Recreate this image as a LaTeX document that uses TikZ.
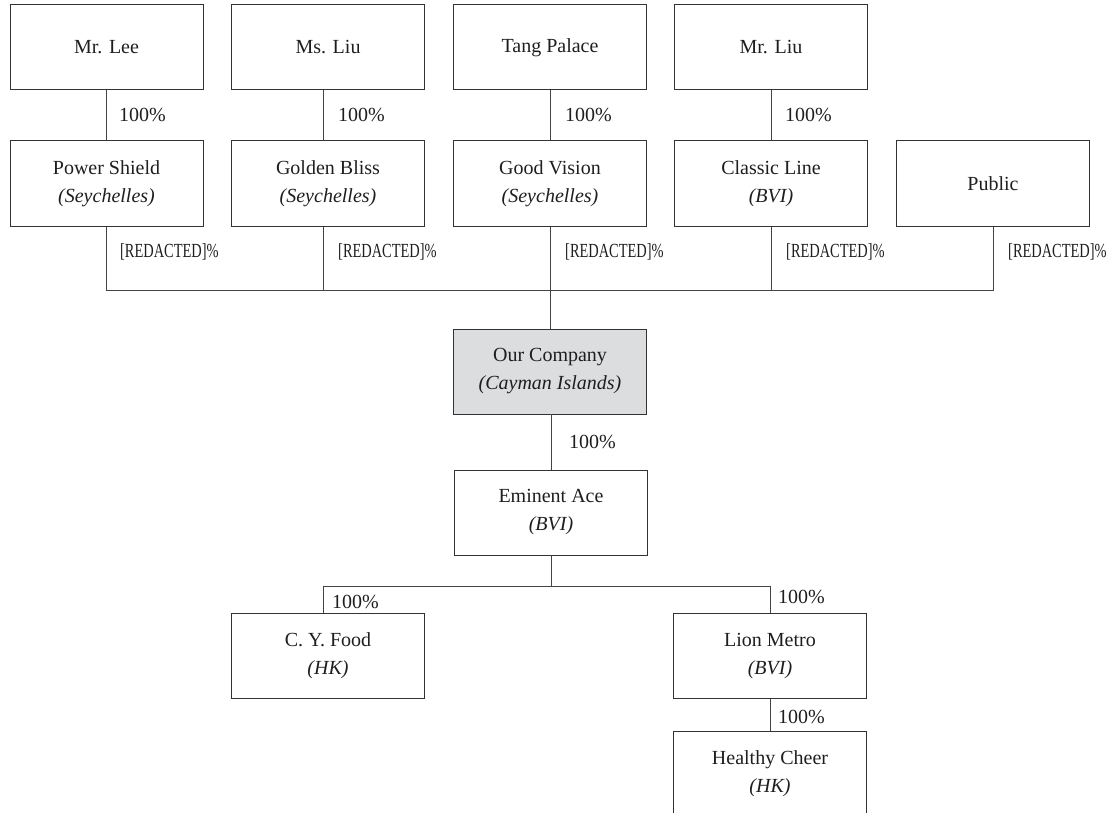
\documentclass[tikz,border=0pt]{standalone}
\usepackage{fontspec}
\setmainfont{Liberation Serif}
\usepackage{graphicx}
\definecolor{linec}{HTML}{333333}
\definecolor{connc}{HTML}{444444}
\definecolor{txt}{HTML}{1E1E1E}
\definecolor{fillc}{HTML}{DCDDDF}
\begin{document}
\begin{tikzpicture}[x=1pt,y=-1pt,
  box/.style={draw=linec, line width=1pt, minimum width=193pt, minimum height=85pt,
    inner sep=0pt, align=center, font=\fontsize{20}{28}\selectfont, text=txt},
  pct/.style={anchor=west, inner sep=0pt, font=\fontsize{20}{24}\selectfont, text=txt},
  conn/.style={draw=connc, line width=1pt}]
\useasboundingbox (0,0) rectangle (1110,813);
\clip (0,0) rectangle (1110,813);
\newcommand{\redpct}{\scalebox{0.72}[1]{[REDACTED]\%}}
% row 1
\node[box] (lee)   at (106.5,47.5) {Mr. Lee};
\node[box] (msliu) at (328,47.5)   {Ms. Liu};
\node[box] (tang)  at (550,47.5)   {Tang Palace};
\node[box] (mrliu) at (771,47.5)   {Mr. Liu};
% row 2
\node[box] (ps)  at (106.5,183.5) {Power Shield\\\textit{(Seychelles)}};
\node[box] (gb)  at (328,183.5)   {Golden Bliss\\\textit{(Seychelles)}};
\node[box] (gv)  at (550,183.5)   {Good Vision\\\textit{(Seychelles)}};
\node[box] (cl)  at (771,183.5)   {Classic Line\\\textit{(BVI)}};
\node[box] (pub) at (993,183.5)   {Public};
% company
\node[box, fill=fillc] (ours) at (550,371.5) {Our Company\\\textit{(Cayman Islands)}};
\node[box] (ea) at (551,512.5) {Eminent Ace\\\textit{(BVI)}};
\node[box] (cy) at (328,656)   {C. Y. Food\\\textit{(HK)}};
\node[box] (lm) at (770,656)   {Lion Metro\\\textit{(BVI)}};
\node[box] (hc) at (770,773.5) {Healthy Cheer\\\textit{(HK)}};
% connectors row1 -> row2
\draw[conn] (lee) -- (ps);
\draw[conn] ([xshift=-5pt]msliu.south) -- ([xshift=-5pt]gb.north);
\draw[conn] (tang) -- (gv);
\draw[conn] (mrliu) -- (cl);
% bus
\coordinate (bus) at (0,290);
\draw[conn] (ps.south) |- (bus -| pub.south) -- (pub.south);
\draw[conn] ([xshift=-5pt]gb.south) -- ([xshift=-5pt]gb.south |- bus);
\draw[conn] (cl.south) -- (cl.south |- bus);
\draw[conn] (gv.south) -- (ours.north);
% lower
\draw[conn] (ours.south) -- (ours.south -| ea.north) -- (ea.north);
\coordinate (bus2) at (0,586);
\draw[conn] (ea.south) -- (ea.south |- bus2);
\draw[conn] ([xshift=-5pt]cy.north) |- (lm.north |- bus2) -- (lm.north);
\draw[conn] (lm) -- (hc);
% labels
\node[pct] (p1) at (119,115) {100\%};
\node[pct] (p2) at (338,115) {100\%};
\node[pct] (p3) at (565,115) {100\%};
\node[pct] (p4) at (785,115) {100\%};
\node[pct] (r1) at (120,252) {\redpct};
\node[pct] (r2) at (338,252) {\redpct};
\node[pct] (r3) at (565,252) {\redpct};
\node[pct] (r4) at (786,252) {\redpct};
\node[pct] (r5) at (1008,252) {\redpct};
\node[pct] (p5) at (569,442) {100\%};
\node[pct] (p6) at (332,602) {100\%};
\node[pct] (p7) at (778,597) {100\%};
\node[pct] (p8) at (778,717) {100\%};
\end{tikzpicture}
\end{document}
